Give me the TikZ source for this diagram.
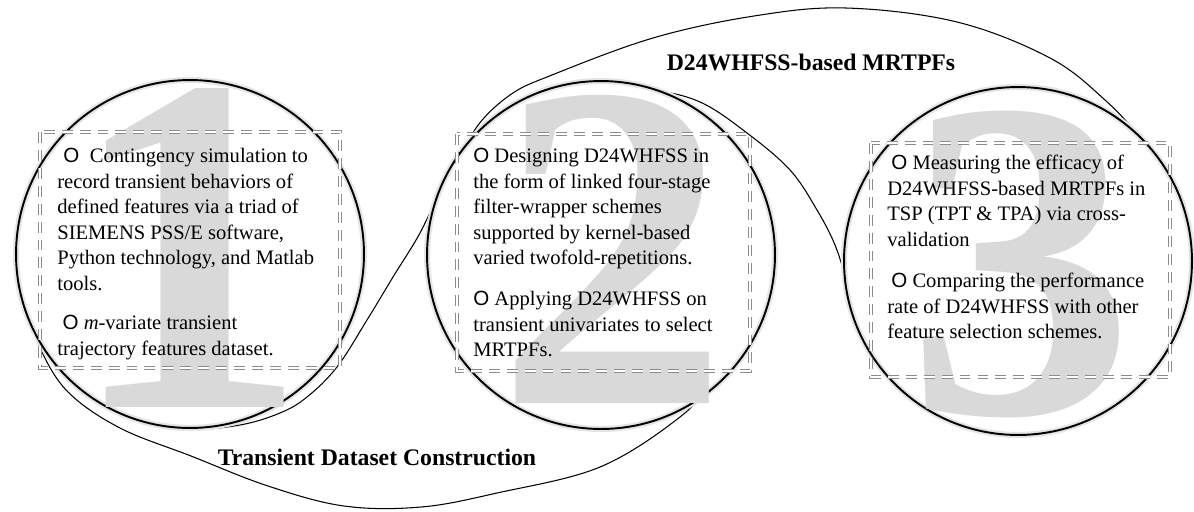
\documentclass[tikz,border=0pt]{standalone}
\usepackage{fontspec}
\setmainfont{Liberation Serif}
\newfontfamily\bulletfont{Liberation Sans}
\usetikzlibrary{positioning}
\newcommand{\bul}{{\bulletfont O}}
\tikzset{
  stage/.style={circle, draw=black!10, line width=3.5pt, fill=white,
    minimum size=6.96cm, inner sep=0pt,
    postaction={draw=black, line width=1.1pt}},
  bignum/.style={text=black!15, inner sep=0pt,
    font=\fontsize{#1}{#1}\selectfont\bfseries},
  dashbox/.style={draw=black!45, double=white, double distance=0.8pt,
    line width=0.55pt, dash pattern=on 6.2pt off 4pt},
  itemtext/.style={align=left, inner sep=0pt, anchor=north west,
    font=\fontsize{11.7}{14.5}\selectfont},
  grouplabel/.style={font=\fontsize{13.5}{16}\selectfont\bfseries},
  grouparc/.style={line width=0.6pt}
}

\begin{document}
\begin{tikzpicture}[x=0.02cm,y=-0.02cm]
  \useasboundingbox (0,0) rectangle (1194,511);
  % group arcs, partly hidden behind the stage circles
  \draw[grouparc] plot[smooth, tension=0.6] coordinates {
    (33,318) (40,348) (68,392) (120,428) (191,456) (268,486) (344,506)
    (421,507) (497,493) (600,467) (680,417) (712,380) (730,345)};
  \draw[grouparc] plot[smooth, tension=0.6] coordinates {
    (140,420) (190,429) (240,425) (280,413) (307,397) (337,367)
    (367,320) (393,277) (420,233) (440,190)};
  \draw[grouparc] plot[smooth, tension=0.6] coordinates {
    (462,165) (476,128) (510,95) (552,75) (653,38) (754,16) (846,8)
    (957,22) (1050,58) (1105,100) (1140,138) (1158,170)};
  \draw[grouparc] plot[smooth, tension=0.6] coordinates {
    (590,90) (650,90) (700,102) (747,133) (790,170) (817,210)
    (835,245) (846,280) (856,320)};
  % stage circles
  \node[stage] (c1) at (190,254) {};
  \node[stage] (c2) at (601,255) {};
  \node[stage] (c3) at (1018,261) {};
  % big grey numerals
  \node[bignum=275] (n1) at (188,248) {1};
  \node[bignum=265] (n2) at (613,249) {2};
  \node[bignum=260] (n3) at (1021,264) {3};
  % dashed frames
  \draw[dashbox] (40,132) rectangle (340,368);
  \draw[dashbox] (457,134) rectangle (750,371);
  \draw[dashbox] (871,143) rectangle (1170,377);
  % stage texts
  \node[itemtext] (t1) at (57,148) {%
    \hspace{3.4pt}\bul\hspace{6pt}Contingency simulation to\\
    record transient behaviors of\\
    defined features via a triad of\\
    SIEMENS PSS/E software,\\
    Python technology, and Matlab\\
    tools.\\[8pt]
    \hspace{3pt}\bul\ \emph{m}-variate transient\\
    trajectory features dataset.};
  \node[itemtext] (t2) at (473,148) {%
    \bul\ Designing D24WHFSS in\\
    the form of linked four-stage\\
    filter-wrapper schemes\\
    supported by kernel-based\\
    varied twofold-repetitions.\\[9pt]
    \bul\ Applying D24WHFSS on\\
    transient univariates to select\\
    MRTPFs.};
  \node[itemtext] (t3) at (887,155) {%
    \hspace{2.3pt}\bul\ Measuring the efficacy of\\
    D24WHFSS-based MRTPFs in\\
    TSP (TPT \& TPA) via cross-\\
    validation\\[9pt]
    \hspace{2.3pt}\bul\ Comparing the performance\\
    rate of D24WHFSS with other\\
    feature selection schemes.};
  % group titles
  \node[grouplabel] (g2) at (811,62) {D24WHFSS-based MRTPFs};
  \node[grouplabel] (g1) at (377,457) {Transient Dataset Construction};
\end{tikzpicture}
\end{document}
